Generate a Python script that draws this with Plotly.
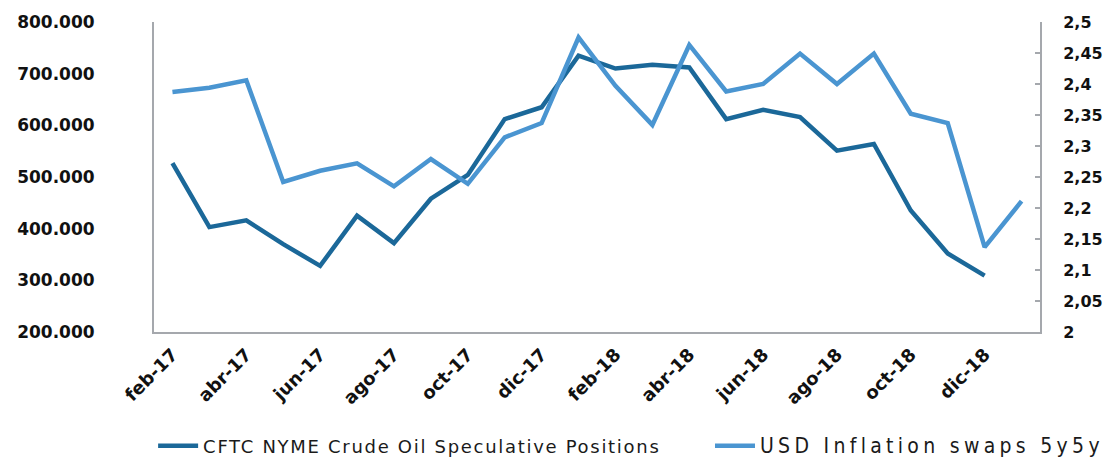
import plotly.graph_objects as go

months = ["feb-17", "mar-17", "abr-17", "may-17", "jun-17", "jul-17", "ago-17", "sep-17",
          "oct-17", "nov-17", "dic-17", "ene-18", "feb-18", "mar-18", "abr-18", "may-18",
          "jun-18", "jul-18", "ago-18", "sep-18", "oct-18", "nov-18", "dic-18", "ene-19"]

cftc_positions = [527000, 403000, 416000, 370000, 328000, 425000, 372000, 458000,
                  504000, 612000, 635000, 735000, 710000, 717000, 712000, 612000,
                  630000, 616000, 551000, 564000, 435000, 352000, 309000]

inflation_swaps = [2.387, 2.394, 2.406, 2.242, 2.260, 2.272, 2.235, 2.279,
                   2.239, 2.314, 2.337, 2.475, 2.397, 2.334, 2.463, 2.388,
                   2.400, 2.449, 2.400, 2.449, 2.352, 2.337, 2.137, 2.211]

name_cftc = "CFTC NYME Crude Oil Speculative Positions"
name_swaps = "USD Inflation swaps 5y5y"

DARK = "#1b6899"
LIGHT = "#4a95d1"
AXIS = "#a5a8ad"

fig = go.Figure()
fig.add_trace(go.Scatter(
    x=months[:len(cftc_positions)], y=cftc_positions, mode="lines",
    name='<span style="letter-spacing:1.7px">' + name_cftc + "\u00a0" * 6 + '</span>',
    line=dict(color=DARK, width=4.5), yaxis="y"))
fig.add_trace(go.Scatter(
    x=months, y=inflation_swaps, mode="lines",
    name='<span style="font-family:\'Liberation Sans Narrow\', \'DejaVu Sans Condensed\';font-size:21px;letter-spacing:4.3px">' + name_swaps + '</span>',
    line=dict(color=LIGHT, width=4.5), yaxis="y2"))

tick_font = dict(family="DejaVu Sans", size=17, color="#111111", weight="bold")

fig.update_layout(
    width=1113, height=462,
    margin=dict(l=154, r=73, t=22, b=130, autoexpand=False),
    paper_bgcolor="white", plot_bgcolor="white",
    separators=",.",
    showlegend=True,
    legend=dict(orientation="h", xref="paper", yref="paper",
                x=-0.001, xanchor="left", y=-0.368, yanchor="middle",
                font=dict(family="DejaVu Sans", size=18, color="#1a1a1a"),
                itemwidth=40, traceorder="normal"),
    xaxis=dict(type="category", range=[-0.5, 23.5], dtick=2, tickangle=-45,
               showline=True, linecolor=AXIS, linewidth=2, showgrid=False,
               ticks="", ticklabelstandoff=3, automargin=False,
               tickfont=dict(family="DejaVu Sans", size=18, color="#111111", weight="bold"),
               fixedrange=True),
    yaxis=dict(range=[200000, 800000], dtick=100000, tickformat=",d",
               showline=True, linecolor=AXIS, linewidth=2, showgrid=False, zeroline=False,
               ticks="", ticklabelstandoff=54, automargin=False,
               tickfont=tick_font),
    yaxis2=dict(range=[2, 2.5], dtick=0.05, overlaying="y", side="right",
                showline=True, linecolor=AXIS, linewidth=2, showgrid=False, zeroline=False,
                ticks="inside", ticklen=5, tickcolor=AXIS, tickwidth=2, ticklabelstandoff=18,
                automargin=False, tickfont=dict(family="DejaVu Sans", size=16, color="#111111", weight="bold")),
)

fig.write_html("out.html", config={"displayModeBar": False},
               post_script="document.body.style.margin='0';")
